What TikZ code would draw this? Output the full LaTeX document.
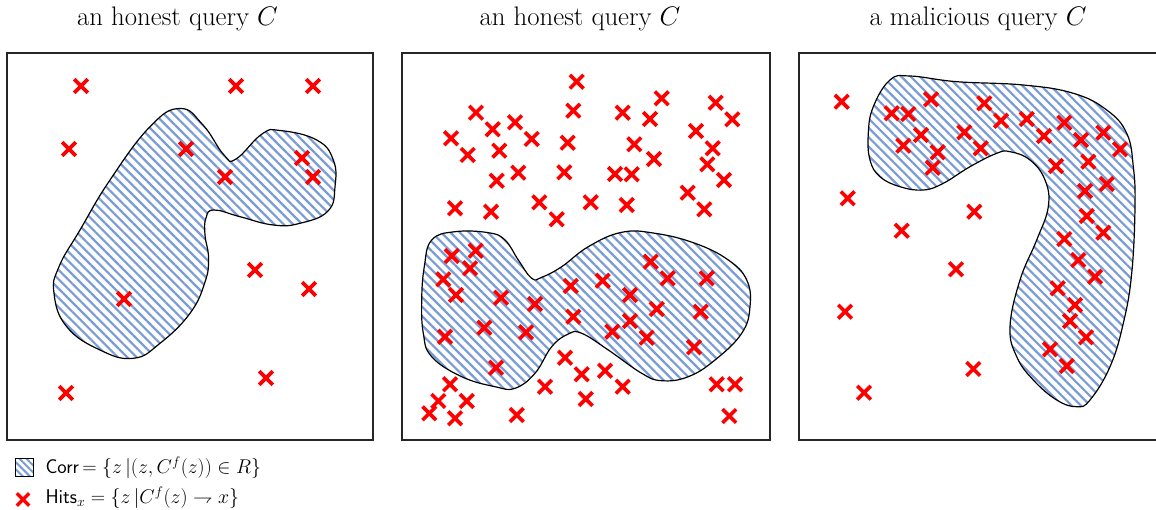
\RequirePackage{fix-cm}
\documentclass[tikz,border=0pt]{standalone}
\usetikzlibrary{patterns.meta,shapes.misc}
\definecolor{hatchblue}{RGB}{122,156,214}
\definecolor{hitred}{RGB}{255,0,0}
\tikzset{
  panel/.style={draw=black!85, line width=1.4pt},
  corr/.style={draw=black, line width=1.2pt,
    pattern={Lines[angle=-45,distance=6.6pt,line width=2.2pt]}, pattern color=hatchblue},
  hit/.style={cross out, draw=hitred, line width=3.6pt, minimum size=10pt, inner sep=0pt},
  title/.style={anchor=base, font=\fontsize{26.8}{32}\selectfont},
  legend/.style={anchor=base west, font=\fontsize{19.9}{24}\selectfont},
}
\begin{document}
\begin{tikzpicture}[x=1pt,y=-1pt]
\useasboundingbox (0,0) rectangle (1156,510);
\clip (0,0) rectangle (1156,510);
\fill[white] (0,0) rectangle (1156,510);

% titles
\node[title] (t1) at (177.5,26) {an honest query $C$};
\node[title] (t2) at (580,26) {an honest query $C$};
\node[title] (t3) at (978,26) {a malicious query $C$};

% blobs
\draw[corr] plot[smooth cycle, tension=0.75] coordinates {
(180,108.5) (203,125) (224,155) (236,159) (262,134) (280,130.5)
(316.7,140) (333.3,160) (335,186.7) (328,211) (300,223.3) (273.3,225) (240,216.7)
(214,210) (206,218) (205,235) (208.5,258) (205,282) (190,313.3)
(160,343.3) (133.3,358.3) (100,350) (66.7,326.7) (54,293.3) (59,266.7)
(80,230) (110,180) (150,126.7)};

\draw[corr] plot[smooth cycle, tension=0.7] coordinates {
(431.7,240) (455,231.7) (488.3,232.7) (505,240) (518.3,260) (531.7,278.3)
(541.7,277.3) (561.7,266.7) (588.3,246.7) (621.7,232.3) (655,233.3) (695,243.3)
(728.3,260) (746.7,280) (750,306.7) (741.7,333.3) (715,360) (688.3,376.7)
(661.7,380.7) (641.7,373.3) (608.3,350) (581.7,333.3) (568.3,334) (551.7,346.7)
(535,373.3) (515,388.3) (495,386.7) (461.7,376.7) (431.7,356.7) (423.3,333.3)
(421.7,300) (424.3,266.7)};

\draw[corr] plot[smooth cycle, tension=0.7] coordinates {
(890,80) (910,76) (956.7,81.7) (1023.3,85) (1073.3,93.3) (1106.7,110)
(1126.7,133.3) (1133.3,166.7) (1135,206.7) (1131.7,273.3) (1123.3,323.3)
(1110,366.7) (1090,400) (1076.7,406.7) (1056.7,400) (1033.3,380) (1016.7,356.7)
(1010,326.7) (1020,280) (1036.7,240) (1048.3,206.7) (1045,180) (1030,160)
(1010,151.7) (996.7,153.3) (970,166.7) (943.3,183.3) (923.3,190) (900,186.7)
(880,176.7) (870,160) (868.3,133.3) (873.3,106.7)};

% panels
\draw[panel] (7,53) rectangle (373,440);
\draw[panel] (402,53) rectangle (770,440);
\draw[panel] (799,53) rectangle (1175,440);

% hits panel 1
\foreach \p [count=\i] in {(81,86),(236,86),(313,86),(69,149),(186,149),(302,158),
  (313,177),(225,177),(255,270),(309,289),(124,299),(266,378),(66,393)}
  \node[hit] (a\i) at \p {};

% hits panel 2
\foreach \p [count=\i] in {(576.7,81.7),(573.3,110.7),(476,112.7),(622.7,112.7),
  (661.7,98.3),(715.7,102.7),(732.3,119.3),(650,119),(492.7,129.3),(515,122.3),
  (451,138.3),(531.7,139),(567.7,142.7),(634.3,144.3),(696,131),(712.7,148.3),
  (499.3,150.7),(467.7,155),(654,159),(707.3,164.3),(724,180),(518.3,172.7),
  (564.3,172.3),(615,174),(631.7,174.3),(496.7,180.7),(687.7,192.7),(455,208.3),
  (491,211.7),(539.3,202.3),(590.7,202.3),(626.7,205),(556.7,219.3),(704.3,209.3),
  (451.7,256),(475.7,250.7),(470,268.3),(443.3,279.3),(456,295),(501,297.7),
  (535,304),(570.7,286),(602.7,280.7),(650.7,261.7),(667.7,278.3),(706.7,278.3),
  (630,295),(656.7,309),(700.7,311.7),(573.3,316.7),(630,321),(484.3,327.7),
  (526,332.3),(612.3,331.7),(646.7,337.7),(445,336.7),(694,347.3),(496,367.7),
  (565,357.7),(581.7,374.3),(605,370.7),(622.7,386.7),(545,386.7),(585.7,399),
  (450,384.3),(438.3,401),(466.7,401),(429.3,413.3),(455,418.3),(516.7,415),
  (716.7,384.3),(735,384.3),(729.3,416)}
  \node[hit] (b\i) at \p {};

% hits panel 3
\foreach \p [count=\i] in {(841.7,101.7),(931,99.3),(984.3,103.3),(891.7,113.3),
  (908.3,114),(1001,120.7),(1026.7,119),(1064.3,122.7),(1103.3,132.7),(921,135),
  (964.3,132.3),(1044,136),(1081,140),(1120,149.3),(903.3,145.7),(937.7,152.3),
  (980.7,148.3),(1088.3,161.7),(932.7,167.7),(1056,166),(1106.7,184),(1085,191),
  (847.7,198.3),(974.3,211.7),(1086.7,216),(1103.3,232.7),(901.7,230.7),
  (1064.3,239),(1078.3,260),(956,269.3),(1095,276.7),(1057.7,288.3),(1075,305),
  (1070,321),(845,311.7),(1086,337.3),(1050,349.3),(1066.7,366),(973.3,369),
  (864,392.7)}
  \node[hit] (c\i) at \p {};

% legend
\node[draw=black, line width=1pt, minimum size=18pt, inner sep=0pt,
  pattern={Lines[angle=-45,distance=5pt,line width=2pt]}, pattern color=hatchblue]
  (lsq) at (24.5,467) {};
\node[legend] (lcorr) at (42,473.5)
  {\textsf{Corr}\,$=\{z\,|(z,C^f(z))\in R\}$};
\node[hit, minimum size=9pt, line width=3.3pt] (lhit) at (23,499.5) {};
\node[legend] (lhits) at (42,503.5)
  {\textsf{Hits}$_x=\{z\,|C^f(z)\rightharpoondown x\}$};
\end{tikzpicture}
\end{document}
